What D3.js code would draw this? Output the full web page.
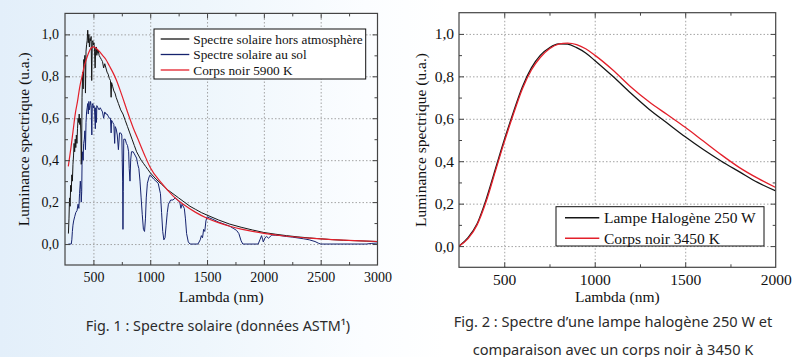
<!DOCTYPE html>
<html><head><meta charset="utf-8">
<script src="https://cdn.jsdelivr.net/npm/d3@7"></script>
<style>
html,body{margin:0;padding:0;}
body{width:811px;height:357px;overflow:hidden;background:linear-gradient(90deg,#e3effa 0%,#eef6fc 25%,#fbfdff 45%,#ffffff 55%);}
text{fill:#111;}
</style></head><body>
<svg id="c" width="811" height="357"></svg>
<script>
// ---------- Fig. 1 data ----------
const am0 = [[280,0.05],[285,0.12],[290,0.22],[295,0.18],[300,0.28],[305,0.25],[310,0.33],[315,0.30],[320,0.38],[325,0.42],[330,0.48],[335,0.44],[340,0.50],[345,0.46],[350,0.52],[355,0.48],[360,0.55],[365,0.60],[370,0.58],[375,0.62],[380,0.57],[385,0.60],[390,0.52],[393,0.38],[396,0.42],[400,0.70],[405,0.82],[410,0.74],[415,0.88],[420,0.86],[425,0.90],[430,0.72],[435,0.92],[440,0.95],[445,0.97],[450,1.02],[455,0.96],[460,1.00],[465,0.94],[470,0.98],[475,0.97],[480,0.99],[485,0.78],[490,0.96],[495,0.97],[500,0.95],[505,0.96],[510,0.92],[515,0.84],[520,0.93],[525,0.94],[530,0.90],[535,0.93],[540,0.91],[545,0.92],[550,0.90],[560,0.89],[570,0.88],[580,0.87],[590,0.84],[600,0.86],[610,0.84],[620,0.82],[630,0.81],[640,0.79],[650,0.78],[656,0.70],[660,0.77],[670,0.75],[680,0.73],[690,0.72],[700,0.70],[720,0.67],[740,0.64],[760,0.62],[780,0.59],[800,0.56],[820,0.53],[840,0.50],[860,0.47],[880,0.44],[900,0.42],[920,0.40],[940,0.385],[960,0.37],[980,0.355],[1000,0.34],[1050,0.31],[1100,0.285],[1150,0.26],[1200,0.24],[1250,0.22],[1300,0.20],[1350,0.18],[1400,0.165],[1450,0.15],[1500,0.138],[1600,0.115],[1700,0.095],[1800,0.08],[1900,0.067],[2000,0.055],[2100,0.047],[2200,0.04],[2300,0.034],[2400,0.029],[2500,0.025],[2600,0.021],[2700,0.018],[2800,0.016],[2900,0.014],[3000,0.012]];

const ground = [[280,0],[305,0],[310,0.02],[315,0.06],[320,0.09],[326,0.11],[335,0.13],[345,0.15],[356,0.16],[365,0.19],[372,0.17],[378,0.24],[385,0.30],[390,0.26],[393,0.20],[397,0.25],[400,0.38],[405,0.44],[410,0.40],[414,0.48],[420,0.50],[425,0.54],[430,0.45],[435,0.58],[440,0.63],[445,0.65],[450,0.67],[455,0.62],[460,0.68],[465,0.64],[470,0.66],[475,0.68],[480,0.66],[486,0.52],[490,0.66],[495,0.67],[500,0.65],[505,0.66],[510,0.64],[517,0.55],[520,0.65],[527,0.58],[530,0.66],[540,0.65],[550,0.64],[560,0.65],[570,0.64],[580,0.63],[590,0.60],[600,0.63],[610,0.62],[620,0.62],[630,0.61],[640,0.60],[650,0.60],[656,0.53],[660,0.59],[670,0.58],[680,0.57],[687,0.48],[692,0.56],[700,0.55],[710,0.52],[720,0.45],[730,0.53],[740,0.53],[750,0.52],[757,0.30],[760,0.07],[763,0.25],[767,0.50],[780,0.50],[790,0.48],[800,0.47],[810,0.44],[815,0.36],[822,0.30],[828,0.40],[835,0.44],[850,0.44],[860,0.43],[870,0.42],[880,0.41],[890,0.38],[900,0.36],[910,0.30],[920,0.22],[930,0.14],[940,0.07],[950,0.06],[958,0.12],[965,0.22],[975,0.29],[990,0.32],[1000,0.33],[1030,0.31],[1050,0.30],[1070,0.29],[1090,0.24],[1100,0.15],[1110,0.06],[1120,0.02],[1130,0.03],[1140,0.09],[1150,0.15],[1160,0.19],[1180,0.21],[1200,0.21],[1220,0.22],[1240,0.21],[1260,0.20],[1270,0.17],[1280,0.19],[1300,0.17],[1310,0.12],[1320,0.05],[1335,0.01],[1350,0],[1420,0],[1440,0.02],[1450,0.04],[1460,0.03],[1470,0.07],[1480,0.06],[1490,0.11],[1500,0.13],[1520,0.125],[1550,0.118],[1600,0.105],[1650,0.095],[1700,0.085],[1730,0.075],[1760,0.065],[1780,0.05],[1800,0.015],[1815,0],[1950,0],[1965,0.02],[1980,0.04],[1990,0.02],[1995,0.01],[2010,0.03],[2025,0.036],[2040,0.028],[2055,0.035],[2070,0.043],[2100,0.042],[2150,0.04],[2200,0.036],[2250,0.033],[2300,0.029],[2350,0.025],[2400,0.02],[2450,0.012],[2480,0.004],[2500,0],[2900,0],[2950,0.003],[3000,0.005]];

const bb5900 = [[279,0.37],[300,0.45],[320,0.535],[340,0.62],[360,0.68],[380,0.75],[400,0.80],[420,0.85],[440,0.885],[460,0.915],[480,0.935],[500,0.94],[520,0.935],[550,0.92],[580,0.90],[610,0.88],[640,0.85],[670,0.82],[700,0.785],[750,0.71],[800,0.63],[850,0.555],[900,0.49],[950,0.425],[1000,0.365],[1100,0.29],[1200,0.23],[1300,0.186],[1400,0.151],[1500,0.123],[1600,0.102],[1700,0.085],[1800,0.071],[1900,0.06],[2000,0.051],[2200,0.037],[2400,0.028],[2600,0.021],[2800,0.016],[3000,0.012]];

// ---------- Fig. 2 data ----------
const halogen = [[250,0.0],[300,0.04],[350,0.105],[400,0.22],[450,0.36],[500,0.50],[550,0.63],[600,0.75],[650,0.84],[700,0.90],[750,0.935],[800,0.953],[850,0.952],[900,0.935],[950,0.91],[1000,0.875],[1100,0.80],[1200,0.72],[1300,0.645],[1400,0.58],[1500,0.515],[1600,0.455],[1700,0.40],[1800,0.35],[1900,0.30],[2000,0.26]];
const bb3450 = [[250,0.0],[300,0.035],[350,0.10],[400,0.21],[450,0.35],[500,0.49],[550,0.62],[600,0.74],[650,0.83],[700,0.89],[750,0.93],[800,0.952],[850,0.957],[900,0.95],[950,0.93],[1000,0.90],[1100,0.83],[1200,0.75],[1300,0.68],[1400,0.62],[1500,0.56],[1600,0.495],[1700,0.43],[1800,0.37],[1900,0.32],[2000,0.276]];

// ---------- ticks / labels ----------
const yMajor = [0,0.2,0.4,0.6,0.8,1.0];
const yMinor = [0.1,0.3,0.5,0.7,0.9];
const x1Major = [500,1000,1500,2000,2500,3000];
const x1Minor = [750,1250,1750,2250,2750];
const x2Major = [500,1000,1500,2000];
const x2Minor = [750,1250,1750];
const xTitle = "Lambda (nm)";
const yTitle = "Luminance spectrique (u.a.)";
const legend1 = ["Spectre solaire hors atmosphère","Spectre solaire au sol","Corps noir 5900 K"];
const legend2 = ["Lampe Halogène 250 W","Corps noir 3450 K"];
const caption1 = ["Fig. 1 : Spectre solaire (données ASTM¹)"];
const caption2 = ["Fig. 2 : Spectre d’une lampe halogène 250 W et","comparaison avec un corps noir à 3450 K"];

const COL = {black:"#161616", navy:"#16236e", red:"#e3202b", frame:"#444", grid:"#9a9a9a"};
const svg = d3.select("#c");
const fmt = v => d3.format(".1f")(v).replace(".", ",");
const SERIF = "Liberation Serif, Times New Roman, serif";

function panel(o){
  const g = svg.append("g");
  const x = d3.scaleLinear().domain(o.xd).range([o.l, o.r]);
  const y = d3.scaleLinear().domain([-0.1, 1.1]).range([o.b, o.t]);
  const W = o.r - o.l, H = o.b - o.t;
  const xm = o.xMajor.filter(v=>v<o.xd[1]);
  // grid
  g.append("g").attr("transform",`translate(0,${o.b})`)
    .call(d3.axisBottom(x).tickValues(xm).tickSize(-H).tickFormat(""))
    .call(s=>{s.select(".domain").remove(); s.selectAll("line").attr("stroke",COL.grid).attr("stroke-dasharray","1.5,2").attr("stroke-width",0.9);});
  g.append("g").attr("transform",`translate(${o.l},0)`)
    .call(d3.axisLeft(y).tickValues(yMajor).tickSize(-W).tickFormat(""))
    .call(s=>{s.select(".domain").remove(); s.selectAll("line").attr("stroke",COL.grid).attr("stroke-dasharray","1.5,2").attr("stroke-width",0.9);});
  // curves
  const clip = "clip"+o.id;
  svg.append("clipPath").attr("id",clip).append("rect").attr("x",o.l).attr("y",o.t).attr("width",W).attr("height",H);
  const cg = g.append("g").attr("clip-path",`url(#${clip})`);
  o.series.forEach(s=>{
    cg.append("path").datum(s.data)
      .attr("d", d3.line().x(d=>x(d[0])).y(d=>y(d[1])).curve(s.curve||d3.curveLinear))
      .attr("fill","none").attr("stroke",s.color).attr("stroke-width",s.w||1).attr("stroke-linejoin","round");
  });
  // inward ticks on all four sides
  const inward = (gen, scale, vals, size, tr) => {
    g.append("g").attr("transform",tr).call(gen(scale).tickValues(vals).tickSize(size).tickFormat(""))
      .call(s=>{s.select(".domain").remove(); s.selectAll("line").attr("stroke",COL.frame).attr("stroke-width",1);});
  };
  inward(d3.axisBottom, x, xm, -5, `translate(0,${o.b})`);
  inward(d3.axisBottom, x, o.xMinor, -3, `translate(0,${o.b})`);
  inward(d3.axisTop, x, xm, -5, `translate(0,${o.t})`);
  inward(d3.axisTop, x, o.xMinor, -3, `translate(0,${o.t})`);
  inward(d3.axisLeft, y, yMajor, -5, `translate(${o.l},0)`);
  inward(d3.axisLeft, y, yMinor, -3, `translate(${o.l},0)`);
  inward(d3.axisRight, y, yMajor, -5, `translate(${o.r},0)`);
  inward(d3.axisRight, y, yMinor, -3, `translate(${o.r},0)`);
  g.append("rect").attr("x",o.l).attr("y",o.t).attr("width",W).attr("height",H)
    .attr("fill","none").attr("stroke",COL.frame).attr("stroke-width",1.2);
  // tick labels
  g.append("g").attr("transform",`translate(0,${o.b})`)
    .call(d3.axisBottom(x).tickValues(o.xMajor).tickSize(0).tickPadding(o.xPad).tickFormat(d3.format("d")))
    .call(s=>{s.select(".domain").remove(); s.attr("font-family",SERIF).attr("font-size",o.tfs); s.selectAll("text").attr("font-family",SERIF).attr("font-size",o.tfs).attr("fill","#111");});
  g.append("g").attr("transform",`translate(${o.l},0)`)
    .call(d3.axisLeft(y).tickValues(yMajor).tickSize(0).tickPadding(o.yPad).tickFormat(fmt))
    .call(s=>{s.select(".domain").remove(); s.attr("font-family",SERIF).attr("font-size",o.tfs); s.selectAll("text").attr("font-family",SERIF).attr("font-size",o.tfs).attr("fill","#111");});
  // titles
  g.append("text").attr("x",(o.l+o.r)/2).attr("y",o.xty).attr("text-anchor","middle")
    .attr("font-family",SERIF).attr("font-size",15.5).text(xTitle);
  g.append("text").attr("transform",`translate(${o.ytx},${(o.t+o.b)/2}) rotate(-90)`).attr("text-anchor","middle")
    .attr("dominant-baseline","central").attr("font-family",SERIF).attr("font-size",15.5).text(yTitle);
  // legend
  const L = o.leg;
  g.append("rect").attr("x",L.x).attr("y",L.y).attr("width",L.w).attr("height",L.h)
    .attr("fill","#fff").attr("stroke","#111").attr("stroke-width",1);
  L.items.forEach((t,i)=>{
    const yy = L.y0 + i*L.dy;
    g.append("line").attr("x1",L.lx1).attr("x2",L.lx2).attr("y1",yy).attr("y2",yy)
      .attr("stroke",o.series[i].color).attr("stroke-width",L.lw);
    g.append("text").attr("x",L.tx).attr("y",yy).attr("dominant-baseline","central")
      .attr("font-family",SERIF).attr("font-size",L.fs).text(t);
  });
  // caption
  o.cap.forEach((t,i)=>{
    g.append("text").attr("x",o.capX).attr("y",o.capY + i*o.capDy).attr("text-anchor","middle")
      .attr("dominant-baseline","central").attr("font-family","Noto Sans, sans-serif")
      .attr("font-size",o.capFs).style("fill","#2b2b2b").text(t);
  });
}

panel({id:1, l:65, r:377.5, t:13.4, b:265, xd:[250,3000], xMajor:x1Major, xMinor:x1Minor,
  tfs:14, xPad:7, yPad:6, xty:302, ytx:23,
  series:[{data:am0,color:COL.black,w:1},{data:ground,color:COL.navy,w:1},{data:bb5900,color:COL.red,w:1.2,curve:d3.curveMonotoneX}],
  leg:{x:154,y:29,w:211.7,h:50,items:legend1,y0:39,dy:15.5,lx1:160.7,lx2:189.3,tx:193.3,fs:13.3,lw:1.3},
  cap:caption1, capX:218, capY:325, capDy:0, capFs:14.4});

panel({id:2, l:459, r:775.7, t:12.7, b:267.3, xd:[250,2000], xMajor:x2Major, xMinor:x2Minor,
  tfs:15.5, xPad:7, yPad:5, xty:302, ytx:420,
  series:[{data:halogen,color:COL.black,w:1.3,curve:d3.curveMonotoneX},{data:bb3450,color:COL.red,w:1.3,curve:d3.curveMonotoneX}],
  leg:{x:556,y:206.7,w:208,h:39.3,items:legend2,y0:217.7,dy:20.6,lx1:565,lx2:599.3,tx:604,fs:15.5,lw:1.6},
  cap:caption2, capX:613, capY:321, capDy:27.5, capFs:14.6});
</script></body></html>
